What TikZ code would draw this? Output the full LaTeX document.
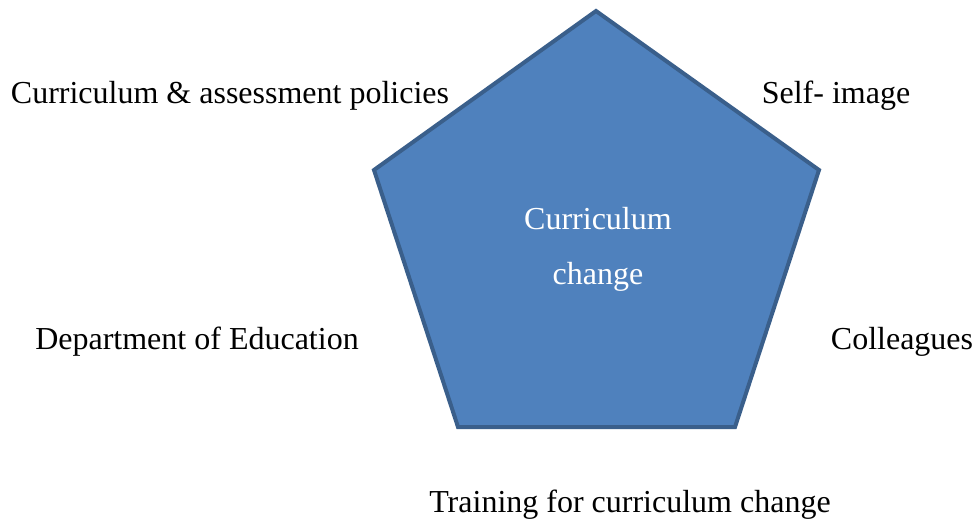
\documentclass[tikz,border=0pt]{standalone}
\usepackage{fontspec}
\setmainfont{Liberation Serif}
\definecolor{penfill}{HTML}{4F81BD}
\definecolor{penedge}{HTML}{3A5F8B}
\begin{document}
\begin{tikzpicture}[x=1pt,y=-1pt,
  label/.style={font=\fontsize{32}{38}\selectfont, inner sep=0pt, anchor=center},
  inlabel/.style={font=\fontsize{32}{55}\selectfont, text=white, align=center, inner sep=0pt}]
\useasboundingbox (0,0) rectangle (975,521);
% central pentagon
\coordinate (top) at (596,11);
\coordinate (ur) at (819,170);
\coordinate (lr) at (735,427);
\coordinate (ll) at (458,427);
\coordinate (ul) at (374,170);
\draw[fill=penfill, draw=penedge, line width=4pt, line join=miter]
  (top) -- (ur) -- (lr) -- (ll) -- (ul) -- cycle;
\node[inlabel] (center) at (598,249) {Curriculum\\change};
% surrounding factors
\node[label] (policies) at (230,96) {Curriculum \& assessment policies};
\node[label] (self) at (836,96) {Self- image};
\node[label] (dept) at (197,342) {Department of Education};
\node[label] (coll) at (902,342) {Colleagues};
\node[label] (train) at (630,505) {Training for curriculum change};
\end{tikzpicture}
\end{document}
